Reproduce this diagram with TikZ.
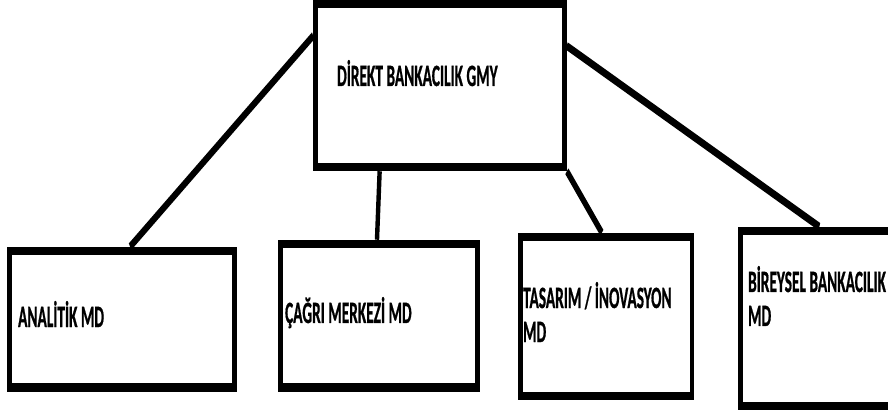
\documentclass[tikz,border=0pt]{standalone}
\usepackage{fontspec}
\setmainfont{Carlito}
\newfontfamily\unitfont{Carlito}[FakeStretch=0.9, FakeBold=1]
\usetikzlibrary{calc}
\tikzset{
  unitbox/.style={draw, line width=8.5pt, inner sep=0pt},
  unitlabel/.style={anchor=base west, inner sep=0pt, align=left,
    font=\unitfont\bfseries\fontsize{31}{34}\selectfont},
  link/.style={line width=8pt}
}

\begin{document}
\begin{tikzpicture}
\useasboundingbox (0,0) rectangle (888pt,-411pt);
% drawn wide, then squeezed sideways
\begin{scope}[x=1.8182pt, y=-1pt, transform canvas={xscale=0.55}]
\node[unitbox, minimum width=452.7pt, minimum height=163pt] (gmy) at (440,85.5) {};
\node[unitbox, minimum width=409.1pt, minimum height=136.5pt] (analitik) at (122,319.25) {};
\node[unitbox, minimum width=358.2pt, minimum height=143.5pt] (cagri) at (379,315.75) {};
\node[unitbox, minimum width=311.8pt, minimum height=159pt] (tasarim) at (606.25,316.5) {};
\node[unitbox, minimum width=300pt, minimum height=175pt] (bireysel) at (822.75,318.5) {};
% texts (two-line ones sit on their last line)
\node[unitlabel] (gmytext) at (337,86) {DİREKT BANKACILIK GMY};
\node[unitlabel] (analitiktext) at (18,327) {ANALİTİK MD};
\node[unitlabel] (cagritext) at (285,323) {ÇAĞRI MERKEZİ MD};
\node[unitlabel] (tasarimtext) at (523,342) {TASARIM / İNOVASYON\\MD};
\node[unitlabel] (bireyseltext) at (748,326) {BİREYSEL BANKACILIK\\MD};
% links
\draw[link] ($(gmy.north west)!0.21!(gmy.south west)$) -- ($(analitik.north west)!0.535!(analitik.north east)$);
\draw[link] ($(gmy.south west)!0.262!(gmy.south east)$) -- ($(cagri.north west)!0.49!(cagri.north east)$);
\draw[link] (gmy.south east) -- ($(tasarim.north west)!0.475!(tasarim.north east)$);
\draw[link] ($(gmy.north east)!0.27!(gmy.south east)$) -- ($(bireysel.north west)!0.48!(bireysel.north east)$);
\end{scope}
\end{tikzpicture}
\end{document}
